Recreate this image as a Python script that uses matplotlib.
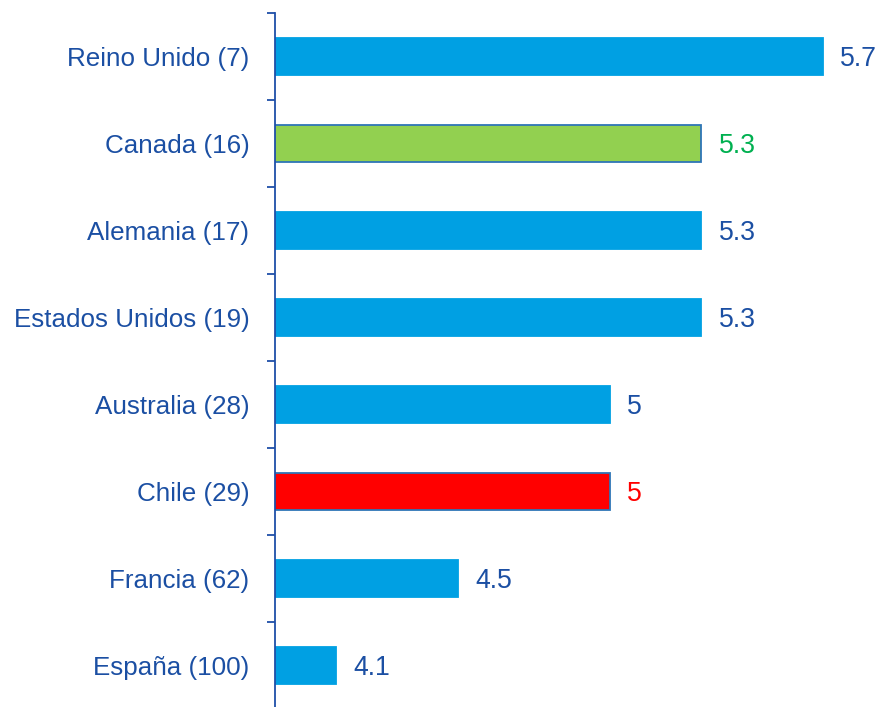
import matplotlib.pyplot as plt
import numpy as np

# Data (top to bottom)
countries = ['Reino Unido (7)', 'Canada (16)', 'Alemania (17)', 'Estados Unidos (19)',
             'Australia (28)', 'Chile (29)', 'Francia (62)', 'España (100)']
values = [5.7, 5.3, 5.3, 5.3, 5.0, 5.0, 4.5, 4.1]
value_labels = ['5.7', '5.3', '5.3', '5.3', '5', '5', '4.5', '4.1']

blue_bar = '#00A0E3'
text_blue = '#1B4FA3'
bar_colors = [blue_bar, '#92D050', blue_bar, blue_bar, blue_bar, '#FF0000', blue_bar, blue_bar]
edge_colors = [blue_bar, '#2E75B6', blue_bar, blue_bar, blue_bar, '#2E75B6', blue_bar, blue_bar]
label_colors = [text_blue, '#00B050', text_blue, text_blue, text_blue, '#FF0000', text_blue, text_blue]

plt.rcParams['font.family'] = ['Liberation Sans', 'DejaVu Sans']

fig = plt.figure(figsize=(8.8, 7.07), dpi=100)
ax = fig.add_axes([275 / 880, 0, 605 / 880, 694 / 707])

y = np.arange(len(countries))
ax.barh(y, values, height=0.43, left=0, color=bar_colors, edgecolor=edge_colors, linewidth=1.3)

ax.set_xlim(3.9, 3.9 + 605 / 304.4)
ax.set_ylim(7.48, -0.5)

for yi, v, lab, c in zip(y, values, value_labels, label_colors):
    ax.annotate(lab, xy=(v, yi), xytext=(12.5, -2), textcoords='offset points',
                va='center', ha='left', fontsize=19.2, color=c)

# Axis styling
for s in ['top', 'right', 'bottom']:
    ax.spines[s].set_visible(False)
ax.spines['left'].set_color('#1F4FA8')
ax.spines['left'].set_linewidth(1.3)
ax.set_xticks([])

ax.set_yticks(y)
ax.set_yticklabels(countries, fontsize=18.7, color=text_blue)
ax.tick_params(axis='y', which='major', length=0, pad=18.5)
ax.set_yticks(np.arange(-0.5, 7.5, 1.0), minor=True)
ax.tick_params(axis='y', which='minor', length=6, width=1.3, color='#1F4FA8', direction='out')

fig.savefig('out.png', dpi=100)
